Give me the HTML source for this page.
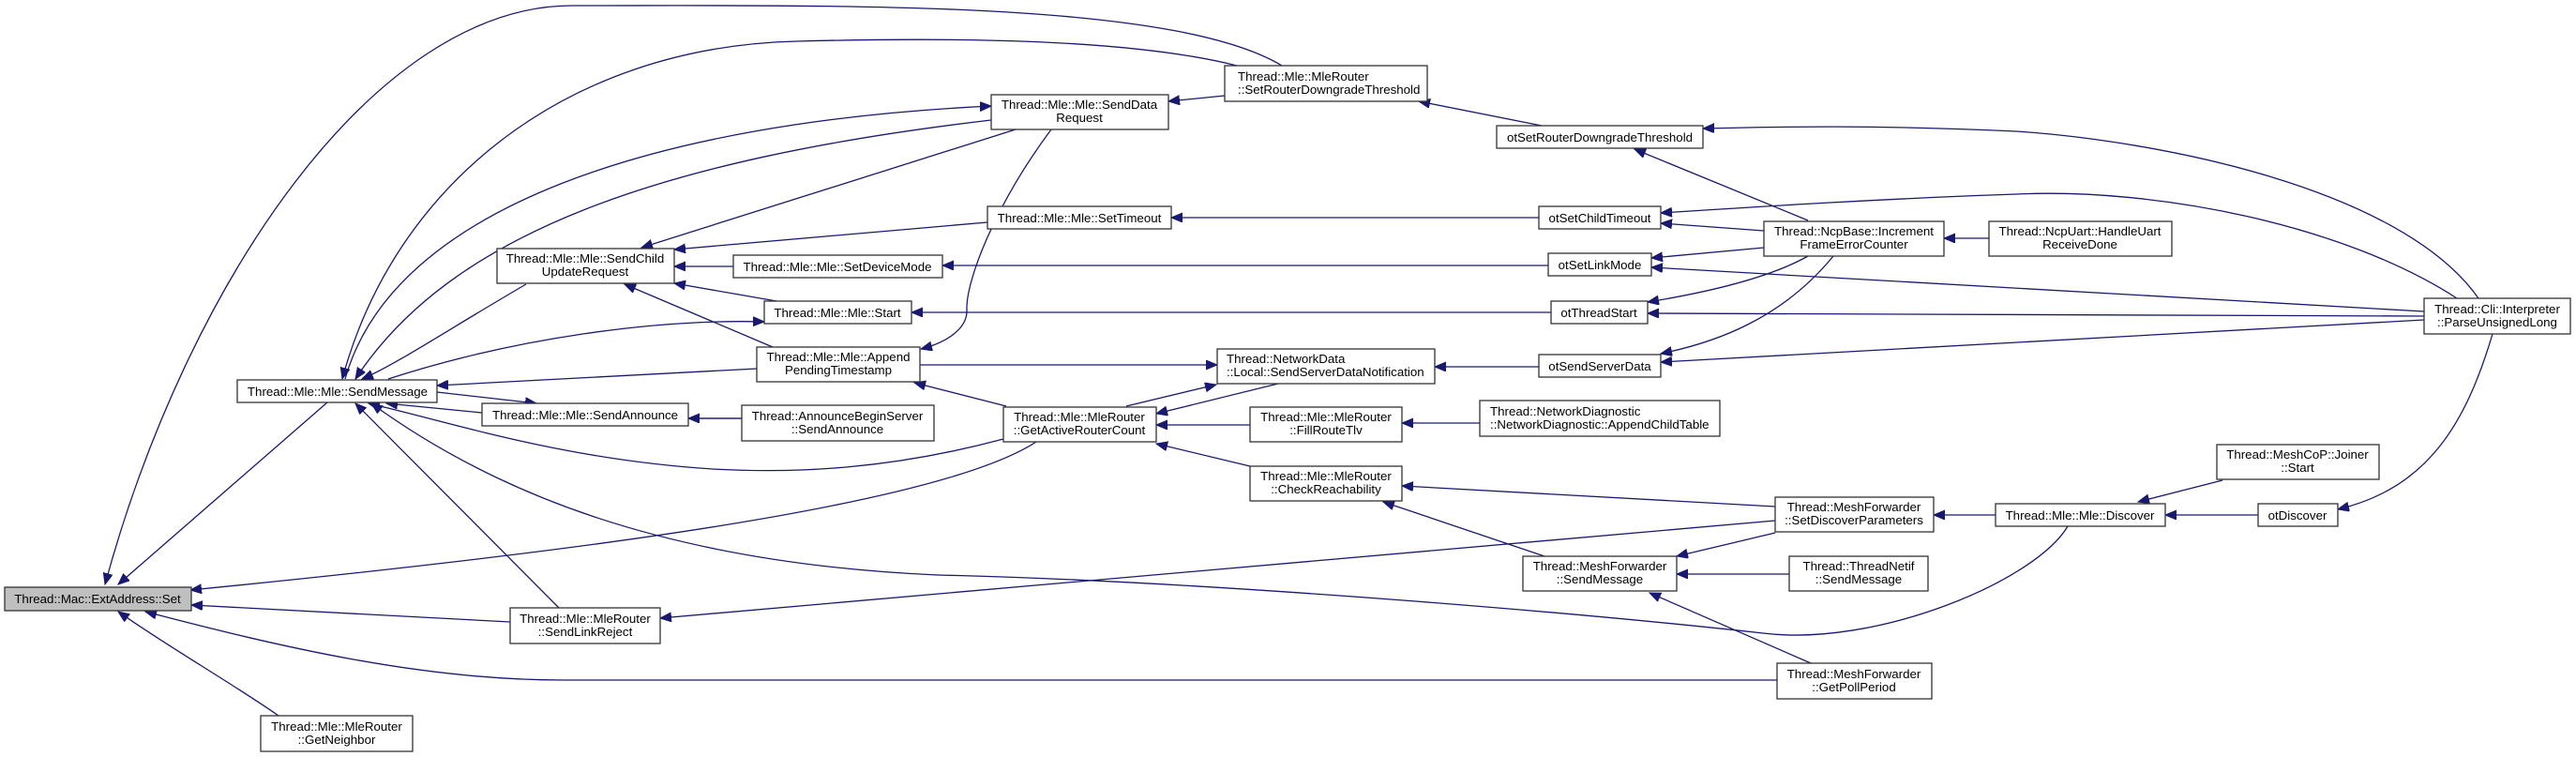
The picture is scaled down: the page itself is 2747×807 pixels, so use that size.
<!DOCTYPE html>
<html><head><meta charset="utf-8"><style>
html,body{margin:0;padding:0;background:#fff;}
svg{display:block;}
text{font-family:"Liberation Sans",Arial,sans-serif;font-size:13.3px;fill:#000;text-anchor:middle;}
rect{fill:#fff;stroke:#333;stroke-width:1.3;}
path{fill:none;stroke:#191970;stroke-width:1.3;}
</style></head><body>
<svg width="2747" height="807" viewBox="0 0 2747 807" xmlns="http://www.w3.org/2000/svg">
<defs>
<marker id="a" markerUnits="userSpaceOnUse" markerWidth="14" markerHeight="12" refX="12" refY="5" orient="auto">
<path d="M0,0 L12,5 L0,10 Z" style="fill:#191970;stroke:#191970;stroke-width:1"/>
</marker>
</defs>
<g marker-end="url(#a)">
<!-- to Set -->
<path d="M349,429 L126,623"/>
<path d="M1367,70 C1250,0 900,6 610,6 C400,6 200,300 112,623"/>
<path d="M1105,471 C1000,540 600,590 203,629"/>
<path d="M544,663 L204,645"/>
<path d="M1895,725 L600,725 C450,725 300,690 155,652"/>
<path d="M297,763 C250,730 180,690 126,652"/>
<!-- to SendMessage -->
<path d="M561,303 C480,350 420,390 386,404"/>
<path d="M1057,128 C700,170 480,250 379,404"/>
<path d="M1319,70 C1200,40 1000,40 850,44 C600,50 420,200 365,404"/>
<path d="M807,393 L466,411"/>
<path d="M1070,468 C950,500 850,505 760,500 C600,490 480,450 393,430"/>
<path d="M514,440 L412,430"/>
<path d="M596,648 L379,430"/>
<path d="M2205,561 C2170,620 2000,690 1880,675 C1700,655 1300,620 1000,613 C700,600 520,520 396,430"/>
<!-- from SendMessage -->
<path d="M368,404 C420,220 700,130 1057,113"/>
<path d="M414,404 C550,360 700,340 815,343"/>
<path d="M466,418 L572,430"/>
<!-- SCU -->
<path d="M1083,138 L684,264"/>
<path d="M1053,237 L719,266"/>
<path d="M782,284 L719,284"/>
<path d="M828,321 L719,302"/>
<path d="M824,370 L666,303"/>
<!-- SDR -->
<path d="M1306,102 L1246,108"/>
<path d="M1644,134 L1513,108"/>
<path d="M1121,138 C1060,220 1030,300 1031,330 C1032,350 1010,365 982,372"/>
<!-- otSetRouterDowngradeThreshold etc -->
<path d="M2643,318 C2560,200 2300,150 2150,140 C2000,133 1900,135 1816,137"/>
<path d="M1928,235 L1743,159"/>
<path d="M2620,318 C2500,240 2300,200 2150,207 C2000,212 1850,222 1771,227"/>
<path d="M1881,246 L1771,238"/>
<path d="M1641,232 L1249,232"/>
<path d="M1651,283 L1005,283"/>
<path d="M1881,264 L1761,275"/>
<path d="M2585,332 L1761,285"/>
<path d="M1654,333 L972,333"/>
<path d="M1928,273 C1880,300 1800,315 1757,322"/>
<path d="M2585,337 L1757,334"/>
<path d="M1073,433 L975,408"/>
<path d="M981,389 L1298,389"/>
<path d="M1641,391 L1530,391"/>
<path d="M1201,433 L1297,410"/>
<path d="M1363,409 L1233,441"/>
<path d="M1333,453 L1233,453"/>
<path d="M1578,451 L1495,451"/>
<path d="M1333,497 L1233,473"/>
<path d="M734,446 L791,446" style="marker-end:none"/>
<path d="M791,446 L734,446"/>
<path d="M1893,555 L704,659"/>
<path d="M1893,540 L1495,518"/>
<path d="M1647,593 L1475,535"/>
<path d="M1893,568 L1788,593"/>
<path d="M1908,612 L1788,612"/>
<path d="M1931,707 L1759,632"/>
<path d="M2128,549 L2062,549"/>
<path d="M2370,512 L2280,535"/>
<path d="M2408,549 L2309,549"/>
<path d="M2658,356 C2630,450 2590,520 2493,543"/>
<path d="M2121,254 L2073,254"/>
<path d="M1955,273 C1900,340 1830,365 1771,377"/>
<path d="M2585,341 L1771,386"/>
</g>
<!-- nodes -->
<rect x="5" y="626" width="199" height="25" style="fill:#bfbfbf"/><text x="104" y="643">Thread::Mac::ExtAddress::Set</text>
<rect x="253" y="405" width="213" height="24"/><text x="360" y="422">Thread::Mle::Mle::SendMessage</text>
<rect x="278" y="763" width="162" height="38"/><text x="359" y="779">Thread::Mle::MleRouter</text><text x="359" y="793">::GetNeighbor</text>
<rect x="530" y="265" width="189" height="37"/><text x="624" y="280">Thread::Mle::Mle::SendChild</text><text x="624" y="294">UpdateRequest</text>
<rect x="514" y="430" width="220" height="24"/><text x="624" y="447">Thread::Mle::Mle::SendAnnounce</text>
<rect x="544" y="648" width="160" height="38"/><text x="624" y="664">Thread::Mle::MleRouter</text><text x="624" y="678">::SendLinkReject</text>
<rect x="782" y="272" width="223" height="24"/><text x="893" y="289">Thread::Mle::Mle::SetDeviceMode</text>
<rect x="815" y="321" width="157" height="24"/><text x="893" y="338">Thread::Mle::Mle::Start</text>
<rect x="807" y="370" width="174" height="37"/><text x="894" y="385">Thread::Mle::Mle::Append</text><text x="894" y="399">PendingTimestamp</text>
<rect x="791" y="432" width="205" height="38"/><text x="893" y="448">Thread::AnnounceBeginServer</text><text x="893" y="462">::SendAnnounce</text>
<rect x="1057" y="101" width="189" height="37"/><text x="1151" y="116">Thread::Mle::Mle::SendData</text><text x="1151" y="130">Request</text>
<rect x="1053" y="220" width="196" height="24"/><text x="1151" y="237">Thread::Mle::Mle::SetTimeout</text>
<rect x="1070" y="434" width="163" height="37"/><text x="1151" y="449">Thread::Mle::MleRouter</text><text x="1151" y="463">::GetActiveRouterCount</text>
<rect x="1306" y="70" width="216" height="38"/><text x="1320" y="86" style="text-anchor:start">Thread::Mle::MleRouter</text><text x="1320" y="100" style="text-anchor:start">::SetRouterDowngradeThreshold</text>
<rect x="1298" y="372" width="232" height="37"/><text x="1308" y="387" style="text-anchor:start">Thread::NetworkData</text><text x="1308" y="401" style="text-anchor:start">::Local::SendServerDataNotification</text>
<rect x="1333" y="434" width="162" height="37"/><text x="1414" y="449">Thread::Mle::MleRouter</text><text x="1414" y="463">::FillRouteTlv</text>
<rect x="1333" y="497" width="162" height="37"/><text x="1414" y="512">Thread::Mle::MleRouter</text><text x="1414" y="526">::CheckReachability</text>
<rect x="1578" y="427" width="256" height="38"/><text x="1589" y="443" style="text-anchor:start">Thread::NetworkDiagnostic</text><text x="1589" y="457" style="text-anchor:start">::NetworkDiagnostic::AppendChildTable</text>
<rect x="1596" y="134" width="220" height="24"/><text x="1706" y="151">otSetRouterDowngradeThreshold</text>
<rect x="1641" y="220" width="130" height="24"/><text x="1706" y="237">otSetChildTimeout</text>
<rect x="1651" y="270" width="110" height="24"/><text x="1706" y="287">otSetLinkMode</text>
<rect x="1654" y="321" width="103" height="24"/><text x="1705" y="338">otThreadStart</text>
<rect x="1641" y="378" width="130" height="24"/><text x="1706" y="395">otSendServerData</text>
<rect x="1624" y="593" width="164" height="37"/><text x="1706" y="608">Thread::MeshForwarder</text><text x="1706" y="622">::SendMessage</text>
<rect x="1881" y="236" width="192" height="37"/><text x="1977" y="251">Thread::NcpBase::Increment</text><text x="1977" y="265">FrameErrorCounter</text>
<rect x="1893" y="530" width="169" height="37"/><text x="1977" y="545">Thread::MeshForwarder</text><text x="1977" y="559">::SetDiscoverParameters</text>
<rect x="1908" y="593" width="148" height="37"/><text x="1982" y="608">Thread::ThreadNetif</text><text x="1982" y="622">::SendMessage</text>
<rect x="1895" y="707" width="165" height="38"/><text x="1977" y="723">Thread::MeshForwarder</text><text x="1977" y="737">::GetPollPeriod</text>
<rect x="2121" y="236" width="195" height="37"/><text x="2218" y="251">Thread::NcpUart::HandleUart</text><text x="2218" y="265">ReceiveDone</text>
<rect x="2128" y="537" width="181" height="24"/><text x="2218" y="554">Thread::Mle::Mle::Discover</text>
<rect x="2364" y="474" width="173" height="37"/><text x="2450" y="489">Thread::MeshCoP::Joiner</text><text x="2450" y="503">::Start</text>
<rect x="2408" y="537" width="85" height="24"/><text x="2450" y="554">otDiscover</text>
<rect x="2585" y="318" width="156" height="38"/><text x="2663" y="334">Thread::Cli::Interpreter</text><text x="2663" y="348">::ParseUnsignedLong</text>
</svg>
</body></html>
